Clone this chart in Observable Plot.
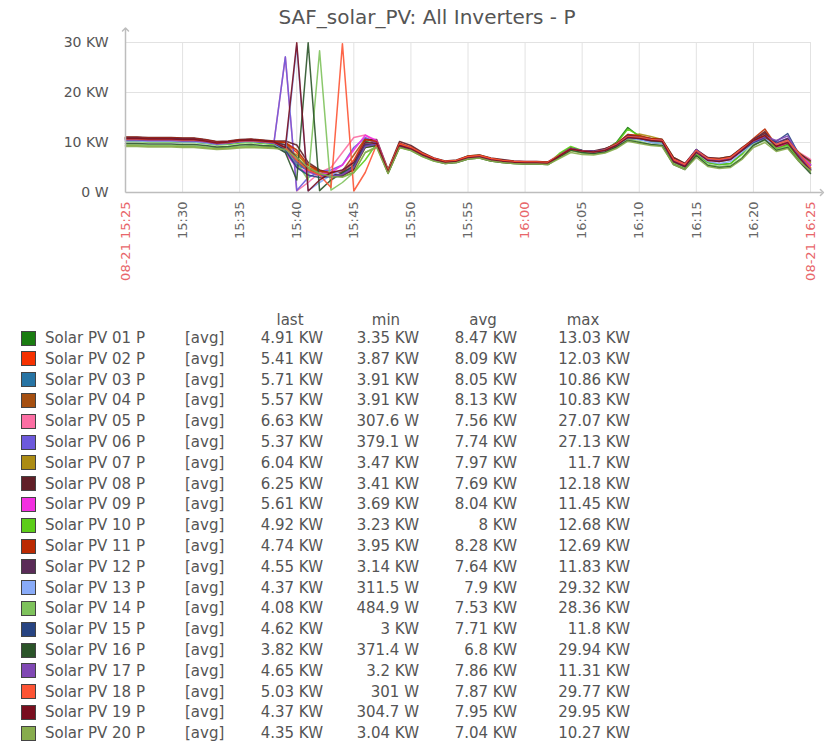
<!DOCTYPE html>
<html><head><meta charset="utf-8">
<script src="https://cdn.jsdelivr.net/npm/d3@7"></script>
<script src="https://cdn.jsdelivr.net/npm/@observablehq/plot@0.6"></script>
<style>
body{margin:0;background:#fff;font-family:"DejaVu Sans",sans-serif;}
#wrap{position:relative;width:836px;height:747px;overflow:hidden;background:#fff;}
#title{position:absolute;left:0;width:854px;top:5px;text-align:center;font-size:20px;color:#555;white-space:nowrap;}
#chart{position:absolute;left:0;top:0;}
#legend{position:absolute;left:0;top:0;width:836px;height:747px;font-size:15px;color:#555;}
#legend span{position:absolute;white-space:nowrap;line-height:18px;}
#legend .sw{position:absolute;width:13px;height:13px;border:1px solid #444;}
</style></head><body>
<div id="wrap"><div id="chart"></div><div id="title">SAF_solar_PV: All Inverters - P</div><div id="legend"></div></div>
<script>
// ---- data (kW, one sample per minute from 08-21 15:25 to 16:25) ----
const seriesNames = ["Solar PV 01 P","Solar PV 02 P","Solar PV 03 P","Solar PV 04 P","Solar PV 05 P","Solar PV 06 P","Solar PV 07 P","Solar PV 08 P","Solar PV 09 P","Solar PV 10 P","Solar PV 11 P","Solar PV 12 P","Solar PV 13 P","Solar PV 14 P","Solar PV 15 P","Solar PV 16 P","Solar PV 17 P","Solar PV 18 P","Solar PV 19 P","Solar PV 20 P"];
const seriesColors = ["#1A7C11","#F63100","#2774A4","#A54F10","#FC6EA3","#6C59DC","#AC8C14","#611F27","#F230E0","#5CCD18","#BB2A02","#5A2B57","#89ABF8","#7EC25C","#274482","#2B5429","#8048B4","#FD5434","#790E1F","#87AC4D"];

const pv01 = [10.9,10.9,10.8,10.8,10.8,10.7,10.7,10.4,10.0,10.1,10.4,10.5,10.3,10.1, 9.5,6.0,4.5,4.0,3.4,3.6,5.5,10.2,9.8, 4.0,9.2,8.6,7.4,6.5,6.0,6.1,6.9,7.1,6.5,6.2,6.0,5.9,5.9,5.8,7.6,9.0,8.1,7.9,8.5,10.0,13.0,11.2,10.0,9.8,6.0,5.0,7.6,6.0,5.6,5.8,7.8,10.6,11.8,9.0,9.6,6.8,4.9];
const pv02 = [11.0,11.0,10.9,10.9,10.9,10.8,10.8,10.5,10.1,10.2,10.5,10.6,10.4,10.2, 10.0,8.0,5.0,4.2,3.9,4.1,6.5,10.8,10.0, 4.4,9.8,9.0,7.8,6.8,6.1,6.3,7.1,7.3,6.7,6.4,6.2,6.1,6.1,6.0,7.2,8.6,8.3,8.1,8.4,9.4,11.4,11.0,10.6,10.4,6.8,5.6,8.4,6.8,6.6,7.0,8.8,10.2,12.0,9.0,10.4,7.6,5.4];
const pv03 = [10.8,10.8,10.7,10.7,10.7,10.6,10.6,10.3,9.9,10.0,10.3,10.4,10.2,10.0, 8.5,5.5,4.5,4.0,3.9,4.2,5.0,9.8,9.6, 4.5,9.4,8.7,7.5,6.6,6.0,6.2,6.9,7.1,6.5,6.2,6.0,6.0,6.0,5.9,7.3,8.6,8.3,8.1,8.3,9.3,10.8,10.6,10.2,10.0,6.6,5.6,8.6,6.8,6.4,6.8,8.4,10.0,10.6,9.0,10.2,7.8,5.7];
const pv04 = [10.7,10.7,10.6,10.6,10.6,10.5,10.5,10.3,9.9,10.1,10.4,10.5,10.3,10.1, 10.0,7.0,4.8,4.0,3.9,4.3,7.5,10.8,10.2, 4.2,9.6,8.8,7.6,6.7,6.1,6.3,7.1,7.3,6.7,6.3,6.1,6.0,6.0,5.9,7.5,8.7,8.2,8.0,8.4,9.6,10.6,10.8,10.4,10.2,6.4,5.4,8.0,6.6,6.4,6.8,8.6,10.2,10.8,8.6,10.0,7.2,5.6];
const pv05 = [10.6,10.6,10.5,10.5,10.5,10.4,10.4,10.2,9.8,10.0,10.3,10.4,10.2,10.0, 27.07,0.31,2.0,4.0,5.0,8.0,11.0,11.5,10.0, 4.5,9.8,9.0,7.8,6.9,6.2,6.4,7.2,7.4,6.8,6.5,6.3,6.2,6.2,6.1,7.6,8.9,8.4,8.2,8.6,9.8,11.4,11.2,10.6,10.4,6.8,5.8,8.4,7.0,6.8,7.2,8.8,10.4,11.0,9.4,10.4,8.0,6.6];
const pv06 = [10.5,10.5,10.4,10.4,10.4,10.3,10.3,10.1,9.7,9.9,10.2,10.3,10.1,9.9, 27.13,0.38,3.0,4.2,4.5,5.5,9.0,11.0,9.8, 4.3,9.6,8.8,7.6,6.6,6.0,6.2,7.0,7.2,6.6,6.3,6.1,6.0,6.0,5.9,7.4,8.8,8.4,8.2,8.5,9.5,11.2,11.0,10.8,10.6,6.4,5.4,8.2,6.6,6.4,6.9,8.7,10.4,11.2,10.0,10.8,7.4,5.4];
const pv07 = [9.4,9.4,9.3,9.3,9.3,9.2,9.2,9.0,8.8,8.9,9.1,9.2,9.1,9.0, 8.8,7.5,5.5,4.4,3.6,3.5,4.5,9.0,9.4, 4.0,9.0,8.6,7.4,6.5,6.0,6.3,7.3,7.5,6.8,6.4,6.2,6.1,6.1,6.0,7.0,8.4,8.0,8.0,8.6,9.8,11.0,11.7,11.2,10.6,7.0,5.8,7.8,6.8,6.8,7.2,8.8,10.0,11.0,9.6,10.2,8.0,6.0];
const pv08 = [11.1,11.1,11.0,11.0,11.0,10.9,10.9,10.6,10.2,10.3,10.6,10.7,10.5,10.3, 10.3,9.5,6.0,4.5,3.8,3.4,4.6,10.5,10.6, 4.6,10.2,9.4,8.0,6.9,6.3,6.5,7.3,7.5,6.9,6.6,6.3,6.2,6.2,6.1,7.3,8.6,8.4,8.3,8.8,9.6,11.6,11.2,10.8,10.6,7.0,5.8,8.6,7.0,6.8,7.2,9.0,10.6,12.2,9.2,10.6,7.8,6.3];
const pv09 = [10.4,10.4,10.3,10.3,10.3,10.2,10.2,10.0,9.6,9.8,10.1,10.2,10.0,9.8, 8.0,5.0,4.0,3.7,4.0,5.5,8.5,11.45,10.4, 4.3,9.5,8.8,7.6,6.6,6.0,6.2,7.0,7.2,6.6,6.3,6.1,6.0,6.0,5.9,7.4,8.7,8.3,8.1,8.4,9.4,11.0,10.8,10.4,10.2,6.6,5.6,8.2,6.6,6.4,6.8,8.6,10.0,11.0,9.0,10.0,7.6,5.6];
const pv10 = [10.2,10.2,10.1,10.1,10.1,10.0,10.0,9.8,9.5,9.6,9.9,10.0,9.8,9.6, 9.0,6.5,4.5,3.6,3.3,3.2,4.0,6.5,9.8, 4.4,9.4,8.7,7.5,6.5,6.0,6.1,6.8,7.0,6.4,6.1,5.9,5.8,5.8,5.7,7.8,9.2,8.4,8.0,8.4,9.8,12.68,11.4,10.4,10.0,6.0,5.0,7.6,6.0,5.6,5.8,7.6,10.2,11.4,8.8,9.4,6.6,4.9];
const pv11 = [11.0,11.0,10.9,10.9,10.9,10.8,10.8,10.5,10.1,10.2,10.5,10.6,10.4,10.2, 10.0,8.5,5.5,4.3,4.0,4.1,6.0,10.6,10.2, 4.0,9.8,9.0,7.8,6.8,6.2,6.4,7.2,7.4,6.8,6.4,6.2,6.1,6.1,6.0,7.3,8.7,8.3,8.1,8.6,9.8,11.6,11.4,10.8,10.6,6.6,5.4,8.4,6.6,6.4,7.0,8.8,10.8,12.69,9.4,10.6,7.2,4.7];
const pv12 = [10.9,10.9,10.8,10.8,10.8,10.7,10.7,10.4,10.0,10.1,10.4,10.5,10.3,10.1, 9.5,7.0,4.5,3.5,3.14,3.3,5.0,9.6,9.8, 4.0,9.4,8.8,7.6,6.6,6.0,6.2,6.9,7.1,6.5,6.2,6.0,5.9,5.9,5.8,7.4,8.8,8.3,8.1,8.4,9.6,11.4,11.0,10.6,10.4,6.2,5.2,8.4,6.6,6.4,6.8,8.6,10.6,11.8,9.8,10.8,7.0,4.6];
const pv13 = [10.3,10.3,10.2,10.2,10.2,10.1,10.1,9.9,9.6,9.8,10.1,10.2,10.0,9.8, 8.0,29.32,0.31,2.0,3.5,4.5,6.0,10.0,9.6, 4.0,9.2,8.6,7.4,6.5,5.9,6.1,6.8,7.0,6.4,6.1,5.9,5.8,5.8,5.7,7.2,8.6,8.2,8.0,8.2,9.2,10.8,10.6,10.0,9.8,6.2,5.2,8.0,6.2,5.8,6.2,8.0,9.8,10.6,9.6,10.4,7.0,4.4];
const pv14 = [9.5,9.5,9.4,9.4,9.4,9.3,9.3,9.1,8.9,9.0,9.2,9.3,9.2,9.1, 8.5,6.0,2.5,28.36,0.48,2.0,4.0,8.0,9.2, 3.8,9.0,8.4,7.2,6.3,5.8,6.0,6.7,6.9,6.3,6.0,5.8,5.7,5.7,5.6,7.0,8.4,7.9,7.7,8.0,9.0,10.6,10.2,9.6,9.4,5.8,4.8,7.4,5.6,5.2,5.4,7.0,9.6,10.4,8.6,9.2,6.4,4.1];
const pv15 = [10.6,10.6,10.5,10.5,10.5,10.4,10.4,10.2,9.8,9.9,10.2,10.3,10.1,9.9, 8.5,5.0,3.5,3.0,3.2,3.8,5.5,9.4,9.6, 4.2,9.3,8.7,7.5,6.5,5.9,6.1,6.8,7.0,6.4,6.1,5.9,5.8,5.8,5.7,7.3,8.8,8.4,8.2,8.6,9.6,11.0,10.8,10.4,10.2,6.2,5.2,8.4,6.6,6.2,6.6,8.4,10.0,11.0,10.2,11.8,7.6,4.6];
const pv16 = [9.8,9.8,9.7,9.7,9.7,9.6,9.6,9.4,9.1,9.2,9.5,9.6,9.4,9.3, 8.0,2.5,29.94,0.37,2.5,4.0,5.0,9.0,9.4, 3.9,9.1,8.5,7.3,6.4,5.8,6.0,6.7,6.9,6.3,6.0,5.8,5.7,5.7,5.6,7.1,8.5,8.0,7.8,8.1,9.1,10.4,10.0,9.6,9.4,5.6,4.6,7.4,5.4,5.0,5.2,6.8,9.4,10.6,8.4,9.0,6.2,3.8];
const pv17 = [10.5,10.5,10.4,10.4,10.4,10.3,10.3,10.1,9.7,9.9,10.2,10.3,10.1,9.9, 9.0,6.0,4.2,3.4,3.2,3.6,5.0,9.2,9.7, 4.1,9.4,8.7,7.5,6.5,5.9,6.1,6.9,7.1,6.5,6.2,6.0,5.9,5.9,5.8,7.4,8.8,8.4,8.2,8.5,9.6,11.2,11.0,10.6,10.4,6.4,5.4,8.6,6.6,6.4,6.8,8.6,10.2,11.2,10.4,11.31,7.4,4.6];
const pv18 = [10.7,10.7,10.6,10.6,10.6,10.5,10.5,10.3,9.9,10.0,10.3,10.4,10.2,10.0, 9.0,6.5,4.5,3.5,1.0,29.77,0.30,4.0,9.6, 4.4,9.7,9.0,7.8,6.8,6.2,6.4,7.2,7.4,6.8,6.4,6.2,6.1,6.1,6.0,7.4,8.7,8.3,8.1,8.5,9.6,11.2,11.0,10.6,10.4,6.6,5.6,8.4,6.8,6.6,7.0,8.8,10.4,11.4,9.6,10.4,7.8,5.0];
const pv19 = [10.8,10.8,10.7,10.7,10.7,10.6,10.6,10.3,9.9,10.1,10.4,10.5,10.3,10.1, 9.0,29.95,0.30,2.5,4.0,4.5,6.0,10.0,9.8, 4.1,9.4,8.7,7.5,6.6,6.0,6.2,6.9,7.1,6.5,6.2,6.0,5.9,5.9,5.8,7.3,8.7,8.3,8.1,8.4,9.4,11.0,10.8,10.4,10.2,6.2,5.2,8.0,6.4,6.2,6.6,8.4,10.4,11.4,9.2,10.0,7.0,4.4];
const pv20 = [9.2,9.2,9.1,9.1,9.1,9.0,9.0,8.8,8.6,8.7,8.9,9.0,8.9,8.8, 8.6,7.0,5.0,3.8,3.2,3.04,4.0,8.0,9.0, 3.8,9.0,8.4,7.2,6.3,5.8,6.0,6.7,6.9,6.3,6.0,5.8,5.7,5.7,5.6,6.8,8.0,7.6,7.5,7.9,8.8,10.27,9.8,9.4,9.2,5.6,4.6,7.0,5.2,4.8,5.0,6.6,9.0,10.0,8.2,8.8,6.2,4.4];
const seriesValues = [pv01,pv02,pv03,pv04,pv05,pv06,pv07,pv08,pv09,pv10,pv11,pv12,pv13,pv14,pv15,pv16,pv17,pv18,pv19,pv20];

// legend table values
const legendLast = ["4.91 KW","5.41 KW","5.71 KW","5.57 KW","6.63 KW","5.37 KW","6.04 KW","6.25 KW","5.61 KW","4.92 KW","4.74 KW","4.55 KW","4.37 KW","4.08 KW","4.62 KW","3.82 KW","4.65 KW","5.03 KW","4.37 KW","4.35 KW"];
const legendMin = ["3.35 KW","3.87 KW","3.91 KW","3.91 KW","307.6 W","379.1 W","3.47 KW","3.41 KW","3.69 KW","3.23 KW","3.95 KW","3.14 KW","311.5 W","484.9 W","3 KW","371.4 W","3.2 KW","301 W","304.7 W","3.04 KW"];
const legendAvg = ["8.47 KW","8.09 KW","8.05 KW","8.13 KW","7.56 KW","7.74 KW","7.97 KW","7.69 KW","8.04 KW","8 KW","8.28 KW","7.64 KW","7.9 KW","7.53 KW","7.71 KW","6.8 KW","7.86 KW","7.87 KW","7.95 KW","7.04 KW"];
const legendMax = ["13.03 KW","12.03 KW","10.86 KW","10.83 KW","27.07 KW","27.13 KW","11.7 KW","12.18 KW","11.45 KW","12.68 KW","12.69 KW","11.83 KW","29.32 KW","28.36 KW","11.8 KW","29.94 KW","11.31 KW","29.77 KW","29.95 KW","10.27 KW"];

const yTicks = [0, 10, 20, 30];
const yTickLabels = ["0 W", "10 KW", "20 KW", "30 KW"];
const grayTickLabels = ["15:30","15:35","15:40","15:45","15:50","15:55","16:05","16:10","16:15","16:20"];
const redTickLabels = ["08-21 15:25","16:00","08-21 16:25"];

// ---- build ----
const start = new Date(Date.UTC(2023, 7, 21, 15, 25));
const end = new Date(Date.UTC(2023, 7, 21, 16, 25));
const toDate = s => { const m = s.match(/(\d\d):(\d\d)$/); return new Date(Date.UTC(2023, 7, 21, +m[1], +m[2])); };
const grayTicks = grayTickLabels.map(toDate);
const redTicks = redTickLabels.map(toDate);
const allTicks = grayTicks.concat(redTicks);

const rows = [];
seriesValues.forEach((vals, s) => vals.forEach((v, i) => rows.push({
  time: new Date(start.getTime() + i * 60000), value: v, series: seriesNames[s], color: seriesColors[s]
})));

const axisColor = "#bdbdbd";
const chart = Plot.plot({
  width: 836, height: 300,
  marginLeft: 125, marginRight: 26, marginTop: 42, marginBottom: 108,
  style: {fontFamily: "DejaVu Sans, sans-serif", background: "transparent", overflow: "visible"},
  x: {type: "utc", domain: [start, end]},
  y: {domain: [0, 30]},
  color: {type: "identity"},
  marks: [
    Plot.gridX(allTicks, {stroke: "#e2e2e2", strokeOpacity: 1}),
    Plot.gridY([10, 20, 30], {stroke: "#e2e2e2", strokeOpacity: 1}),
    Plot.line(rows, {x: "time", y: "value", z: "series", stroke: "color", strokeWidth: 1.5, strokeOpacity: 0.9}),
    Plot.link([{x1: start, y1: 0, x2: new Date(end.getTime() + 60000), y2: 0}], {x1: "x1", y1: "y1", x2: "x2", y2: "y2", stroke: axisColor, strokeWidth: 1.5, markerEnd: "arrow"}),
    Plot.link([{x1: start, y1: 0, x2: start, y2: 32.6}], {x1: "x1", y1: "y1", x2: "x2", y2: "y2", stroke: axisColor, strokeWidth: 1.5, markerEnd: "arrow"}),
    Plot.axisY(yTicks, {tickFormat: d => yTickLabels[yTicks.indexOf(d)], tickSize: 0, tickPadding: 17, fontSize: 14, fill: "#555", label: null}),
    Plot.axisX(grayTicks, {tickFormat: d => grayTickLabels[grayTicks.findIndex(t => +t === +d)], tickRotate: -90, tickSize: 0, tickPadding: 9, fontSize: 13, fill: "#666", label: null}),
    Plot.axisX(redTicks, {tickFormat: d => redTickLabels[redTicks.findIndex(t => +t === +d)], tickRotate: -90, tickSize: 0, tickPadding: 9, fontSize: 13, fill: "#e8666a", label: null})
  ]
});
document.getElementById("chart").appendChild(chart);

// ---- legend ----
const lg = document.getElementById("legend");
const add = (txt, css) => { const e = document.createElement("span"); e.textContent = txt; Object.assign(e.style, css); lg.appendChild(e); return e; };
const headerY = 320;
[["last", 290], ["min", 386], ["avg", 483], ["max", 583]].forEach(([t, cx]) => add(t, {left: (cx - 50) + "px", width: "100px", textAlign: "center", top: (headerY - 9) + "px"}));
seriesNames.forEach((name, i) => {
  const cy = 338 + i * 20.8;
  const sw = document.createElement("div"); sw.className = "sw";
  Object.assign(sw.style, {left: "21px", top: (cy - 7.5) + "px", background: seriesColors[i]});
  lg.appendChild(sw);
  add(name, {left: "45px", top: (cy - 9) + "px"});
  add("[avg]", {left: "185px", top: (cy - 9) + "px"});
  [[legendLast, 323], [legendMin, 419], [legendAvg, 517], [legendMax, 630]].forEach(([arr, rx]) =>
    add(arr[i], {left: (rx - 120) + "px", width: "120px", textAlign: "right", top: (cy - 9) + "px"}));
});
</script>
</body></html>
